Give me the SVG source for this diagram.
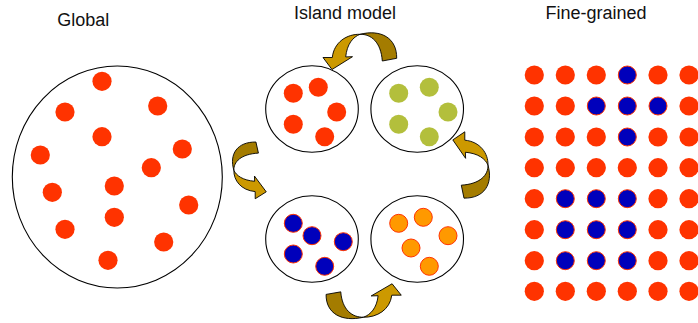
<svg xmlns="http://www.w3.org/2000/svg" xmlns:xlink="http://www.w3.org/1999/xlink" width="698" height="323" viewBox="0 0 698 323">
<style>
.title{font-family:"Liberation Sans",Arial,sans-serif;font-size:18px;fill:#111;text-anchor:middle}
.ring{fill:#fff;stroke:#000;stroke-width:1.1}
.red{fill:#ff3300}
.green{fill:#b3bf3c}
.blue{fill:#0000bb;stroke:#ff3300;stroke-width:1}
.orange{fill:#ff9900;stroke:#ff3300;stroke-width:1}
.dark{fill:#a47c00;stroke:#000;stroke-width:0.9;stroke-linejoin:round;vector-effect:non-scaling-stroke}
.light{fill:#cc9900;stroke:#000;stroke-width:0.9;stroke-linejoin:round;vector-effect:non-scaling-stroke}
</style>
<defs>
<g id="arrow">
<path class="dark" d="M35.7,8.3 C36,-12 20,-21 -1,-15.7 C10,-16 20,-8 21.3,11 Z"/>
<path class="light" d="M-1,-15.7 C-14,-16 -27,-8 -28.7,7.5 L-38,7.5 L-29,19.5 L-8.5,6.7 L-15.3,6.9 C-14,-6 -8,-13 -1,-15.7 Z"/>
</g>
</defs>
<rect width="698" height="323" fill="#fff"/>

<g id="global">
<text class="title" x="83.3" y="26">Global</text>
<ellipse class="ring" cx="117.3" cy="177" rx="105" ry="111"/>
<g class="red">
<circle cx="102" cy="81.3" r="9.6"/>
<circle cx="65" cy="112" r="9.6"/>
<circle cx="157.7" cy="106" r="9.6"/>
<circle cx="102" cy="136.7" r="9.6"/>
<circle cx="40.3" cy="155" r="9.6"/>
<circle cx="182.3" cy="149" r="9.6"/>
<circle cx="151.3" cy="167.7" r="9.6"/>
<circle cx="52.3" cy="192.3" r="9.6"/>
<circle cx="114.3" cy="186" r="9.6"/>
<circle cx="188.7" cy="205" r="9.6"/>
<circle cx="114.3" cy="217.3" r="9.6"/>
<circle cx="65" cy="229.3" r="9.6"/>
<circle cx="163.7" cy="242" r="9.6"/>
<circle cx="108" cy="260.3" r="9.6"/>
</g>
</g>

<text class="title" x="345" y="19">Island model</text>

<g id="island-red">
<ellipse class="ring" cx="312" cy="109" rx="46.3" ry="43.3"/>
<g class="red">
<circle cx="293.3" cy="93.3" r="9.5"/>
<circle cx="318.3" cy="87.3" r="9.5"/>
<circle cx="336.7" cy="112" r="9.5"/>
<circle cx="293.3" cy="124.3" r="9.5"/>
<circle cx="324.7" cy="136.7" r="9.5"/>
</g>
</g>

<g id="island-green">
<ellipse class="ring" cx="417.2" cy="109" rx="46.3" ry="43.3"/>
<g class="green">
<circle cx="398.7" cy="93.3" r="9.5"/>
<circle cx="429.3" cy="87.3" r="9.5"/>
<circle cx="448" cy="112" r="9.5"/>
<circle cx="398.7" cy="124.3" r="9.5"/>
<circle cx="429.3" cy="136.7" r="9.5"/>
</g>
</g>

<g id="island-blue">
<ellipse class="ring" cx="312" cy="239" rx="46.3" ry="43.3"/>
<g class="blue">
<circle cx="293.3" cy="223.3" r="9"/>
<circle cx="312" cy="235.7" r="9"/>
<circle cx="343.3" cy="241.7" r="9"/>
<circle cx="293.3" cy="254" r="9"/>
<circle cx="324.7" cy="266.3" r="9"/>
</g>
</g>

<g id="island-orange">
<ellipse class="ring" cx="417.2" cy="239" rx="46.3" ry="43.3"/>
<g class="orange">
<circle cx="398.7" cy="223.3" r="9"/>
<circle cx="423.3" cy="217.3" r="9"/>
<circle cx="448" cy="235.7" r="9"/>
<circle cx="411" cy="248" r="9"/>
<circle cx="429.3" cy="266.3" r="9"/>
</g>
</g>

<g id="connectors">
<use xlink:href="#arrow" transform="translate(361,50)"/>
<use xlink:href="#arrow" transform="translate(248.3,169.5) rotate(-90) scale(0.77,0.92)"/>
<use xlink:href="#arrow" transform="translate(362.5,302.3) rotate(180) scale(1.02,0.95)"/>
<use xlink:href="#arrow" transform="translate(472.3,166) rotate(90) scale(0.9,1)"/>
</g>

<g id="fine-grained">
<text class="title" x="596" y="19">Fine-grained</text>
<g class="red">
<circle cx="534.3" cy="75" r="9.6"/><circle cx="565.3" cy="75" r="9.6"/><circle cx="596.3" cy="75" r="9.6"/><circle cx="658" cy="75" r="9.6"/><circle cx="689" cy="75" r="9.6"/>
<circle cx="534.3" cy="106" r="9.6"/><circle cx="565.3" cy="106" r="9.6"/><circle cx="689" cy="106" r="9.6"/>
<circle cx="534.3" cy="137" r="9.6"/><circle cx="565.3" cy="137" r="9.6"/><circle cx="596.3" cy="137" r="9.6"/><circle cx="658" cy="137" r="9.6"/><circle cx="689" cy="137" r="9.6"/>
<circle cx="534.3" cy="167.7" r="9.6"/><circle cx="565.3" cy="167.7" r="9.6"/><circle cx="596.3" cy="167.7" r="9.6"/><circle cx="627.3" cy="167.7" r="9.6"/><circle cx="658" cy="167.7" r="9.6"/><circle cx="689" cy="167.7" r="9.6"/>
<circle cx="534.3" cy="198.7" r="9.6"/><circle cx="658" cy="198.7" r="9.6"/><circle cx="689" cy="198.7" r="9.6"/>
<circle cx="534.3" cy="229.7" r="9.6"/><circle cx="658" cy="229.7" r="9.6"/><circle cx="689" cy="229.7" r="9.6"/>
<circle cx="534.3" cy="260.7" r="9.6"/><circle cx="658" cy="260.7" r="9.6"/><circle cx="689" cy="260.7" r="9.6"/>
<circle cx="534.3" cy="291.3" r="9.6"/><circle cx="565.3" cy="291.3" r="9.6"/><circle cx="596.3" cy="291.3" r="9.6"/><circle cx="627.3" cy="291.3" r="9.6"/><circle cx="658" cy="291.3" r="9.6"/><circle cx="689" cy="291.3" r="9.6"/>
</g>
<g class="blue">
<circle cx="627.3" cy="75" r="9"/>
<circle cx="596.3" cy="106" r="9"/><circle cx="627.3" cy="106" r="9"/><circle cx="658" cy="106" r="9"/>
<circle cx="627.3" cy="137" r="9"/>
<circle cx="565.3" cy="198.7" r="9"/><circle cx="596.3" cy="198.7" r="9"/><circle cx="627.3" cy="198.7" r="9"/>
<circle cx="565.3" cy="229.7" r="9"/><circle cx="596.3" cy="229.7" r="9"/><circle cx="627.3" cy="229.7" r="9"/>
<circle cx="565.3" cy="260.7" r="9"/><circle cx="596.3" cy="260.7" r="9"/><circle cx="627.3" cy="260.7" r="9"/>
</g>
</g>
</svg>
